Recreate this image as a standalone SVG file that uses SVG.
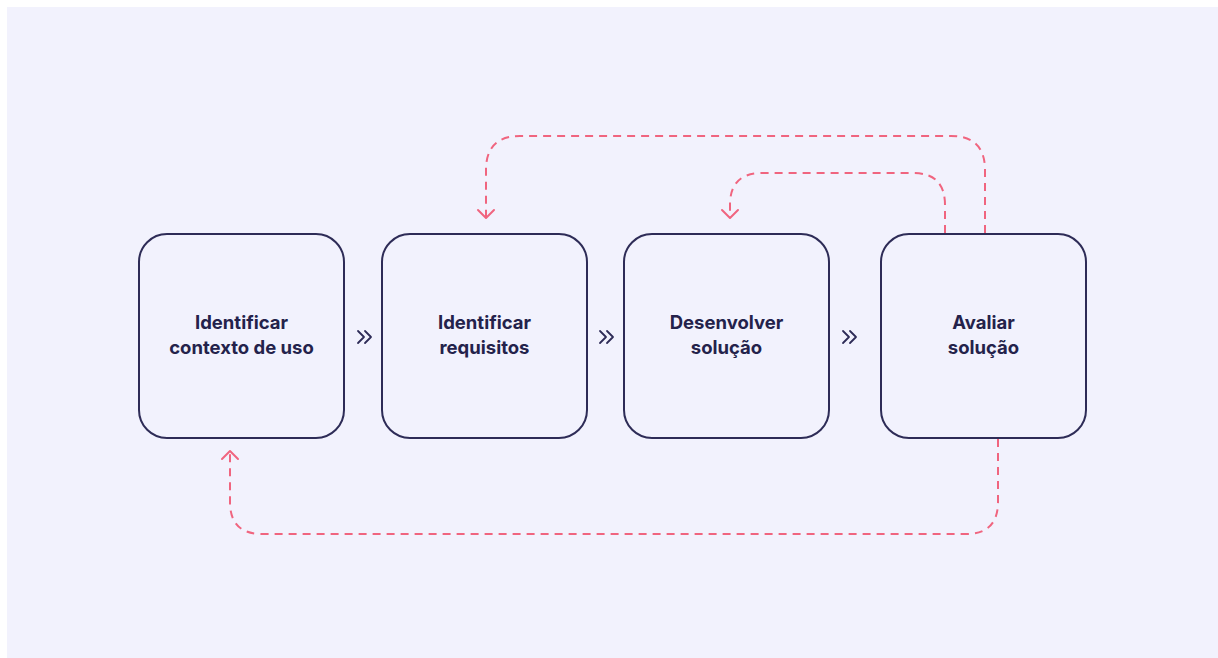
<svg xmlns="http://www.w3.org/2000/svg" width="1218" height="658" viewBox="0 0 1218 658">
<style>
.node rect{fill:#f2f2fd;stroke:#2e2c57;stroke-width:2}
.node text{font-family:Inter,"Noto Sans","Liberation Sans",sans-serif;font-weight:700;font-size:18.5px;fill:#24224b;text-anchor:middle}
.dash{fill:none;stroke:#f0657f;stroke-width:2;stroke-dasharray:8 6}
.head{fill:none;stroke:#f0657f;stroke-width:2;stroke-linecap:round;stroke-linejoin:round}
.chev{fill:none;stroke:#2e2c57;stroke-width:1.8;stroke-linecap:round;stroke-linejoin:round}
</style>
<rect x="7" y="7" width="1211" height="651" fill="#f2f2fd"/>
<g id="connectors">
<path class="dash" d="M985 233 V170 Q985 136 951 136 H520 Q486 136 486 170 V217"/>
<path class="head" d="M478 210 L486 218 L494 210"/>
<path class="dash" d="M945 233 V205 Q945 173 913 173 H762 Q730 173 730 205 V217"/>
<path class="head" d="M722 210 L730 218 L738 210"/>
<path class="dash" d="M998 439 V502 Q998 534 966 534 H262 Q230 534 230 502 V452"/>
<path class="head" d="M222 459 L230 451 L238 459"/>
<path class="chev" d="M358 331 L364 337 L358 343 M365 331 L371 337 L365 343"/>
<path class="chev" d="M600 331 L606 337 L600 343 M607 331 L613 337 L607 343"/>
<path class="chev" d="M843 331 L849 337 L843 343 M850 331 L856 337 L850 343"/>
</g>
<g id="node1" class="node">
<rect x="139" y="234" width="205" height="204" rx="28"/>
<text x="241.5" y="329">Identificar</text>
<text x="241.5" y="354">contexto de uso</text>
</g>
<g id="node2" class="node">
<rect x="382" y="234" width="205" height="204" rx="28"/>
<text x="484.5" y="329">Identificar</text>
<text x="484.5" y="354">requisitos</text>
</g>
<g id="node3" class="node">
<rect x="624" y="234" width="205" height="204" rx="28"/>
<text x="726.5" y="329">Desenvolver</text>
<text x="726.5" y="354">solução</text>
</g>
<g id="node4" class="node">
<rect x="881" y="234" width="205" height="204" rx="28"/>
<text x="983.5" y="329">Avaliar</text>
<text x="983.5" y="354">solução</text>
</g>
</svg>
